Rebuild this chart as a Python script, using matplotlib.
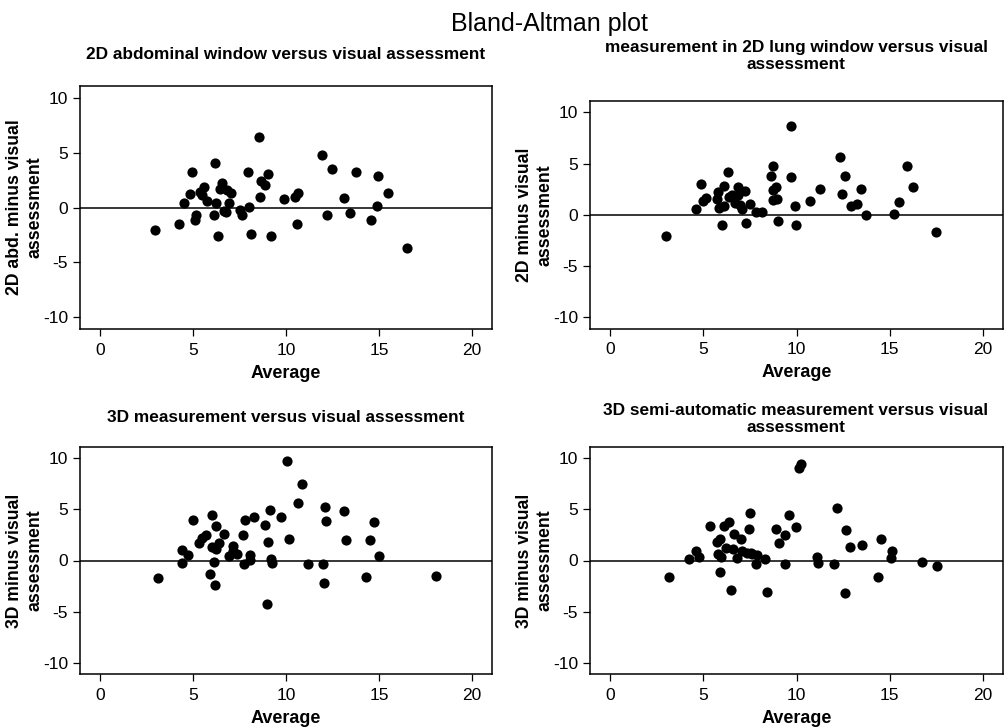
import matplotlib
matplotlib.use("Agg")
import matplotlib.pyplot as plt

plt.rcParams['font.family'] = ['Liberation Sans', 'DejaVu Sans']
plt.rcParams['axes.unicode_minus'] = False

# --- data (average, difference) ---
avg_abd = [2.96, 4.24, 4.49, 4.81, 4.92, 5.08, 5.16, 5.35, 5.59, 5.50, 5.75, 6.14,
           6.20, 6.25, 6.34, 6.47, 6.58, 6.68, 6.79, 6.81, 6.95, 7.06, 7.51, 7.64,
           7.96, 8.03, 8.10, 8.53, 8.62, 8.68, 8.88, 9.02, 9.22, 9.88, 10.47, 10.58,
           10.67, 11.91, 12.18, 12.47, 13.10, 13.42, 13.78, 14.59, 14.90, 14.95, 15.49, 16.50]
diff_abd = [-2.08, -1.47, 0.37, 1.19, 3.24, -1.10, -0.64, 1.44, 1.90, 1.13, 0.61, -0.67,
            4.10, 0.37, -2.63, 1.71, 2.20, -0.31, -0.43, 1.59, 0.43, 1.28, -0.24, -0.67,
            3.24, 0.03, -2.42, 6.42, 0.95, 2.45, 2.05, 3.03, -2.57, 0.80, 0.92, -1.47,
            1.35, 4.83, -0.64, 3.55, 0.89, -0.52, 3.27, -1.13, 0.12, 2.87, 1.31, -3.73]

avg_lung = [2.98, 4.61, 4.90, 4.97, 5.17, 5.80, 5.76, 5.85, 6.01, 6.12, 6.10, 6.30,
            6.37, 6.55, 6.69, 6.85, 6.84, 6.96, 7.09, 7.23, 7.30, 7.53, 7.84, 8.16,
            8.65, 8.74, 8.74, 8.88, 8.76, 8.97, 9.02, 9.70, 9.72, 9.94, 9.99, 10.71,
            11.28, 12.34, 12.42, 12.58, 12.93, 13.26, 13.44, 13.73, 15.23, 15.48, 15.91,
            16.24, 17.49]
diff_lung = [-2.04, 0.52, 3.04, 1.36, 1.59, 2.23, 1.52, 0.68, -1.04, 2.85, 0.87, 4.21,
             1.75, 1.91, 1.10, 2.69, 1.97, 0.94, 0.52, 2.30, -0.78, 1.04, 0.29, 0.29,
             3.75, 4.72, 2.39, 2.72, 1.42, 1.49, -0.61, 8.67, 3.69, 0.84, -1.04, 1.36,
             2.49, 5.60, 2.07, 3.75, 0.84, 1.04, 2.49, 0.00, 0.03, 1.26, 4.72, 2.69, -1.72]

avg_3d = [3.14, 4.42, 4.42, 4.74, 4.99, 5.30, 5.48, 5.68, 5.89, 6.00, 6.04, 6.15,
          6.18, 6.25, 6.25, 6.40, 6.66, 6.95, 7.13, 7.17, 7.38, 7.69, 7.76, 7.80,
          8.05, 8.05, 8.28, 8.89, 8.97, 9.02, 9.13, 9.18, 9.25, 9.72, 10.04, 10.15,
          10.65, 10.87, 11.16, 12.00, 12.07, 12.09, 12.16, 13.10, 13.24, 14.32, 14.54,
          14.72, 14.99, 18.08]
diff_3d = [-1.68, 1.00, -0.29, 0.58, 3.98, 1.72, 2.20, 2.52, -1.29, 1.29, 4.43, -0.10,
           -2.39, 3.33, 1.17, 1.72, 2.62, 0.42, 1.46, 0.97, 0.68, 2.52, -0.39, 3.95,
           0.52, 0.03, 4.24, 3.43, -4.21, 1.81, 4.89, 0.19, -0.26, 4.21, 9.77, 2.14,
           5.63, 7.51, -0.32, -0.32, -2.20, 5.28, 3.85, 4.85, 2.04, -1.62, 2.04, 3.75,
           0.42, -1.52]

avg_semi = [3.18, 4.22, 4.63, 4.77, 5.35, 5.71, 5.87, 5.81, 5.87, 5.96, 6.12, 6.24,
            6.39, 6.46, 6.60, 6.66, 6.82, 7.00, 7.09, 7.36, 7.43, 7.50, 7.63, 7.82,
            7.89, 8.31, 8.42, 8.90, 9.06, 9.38, 9.40, 9.60, 9.98, 10.14, 10.26, 11.09,
            11.16, 12.02, 12.15, 12.58, 12.63, 12.85, 13.53, 14.39, 14.55, 15.11, 15.05,
            16.76, 17.56, 7.55]
diff_semi = [-1.65, 0.13, 0.91, 0.32, 3.33, 1.81, 2.10, 0.68, -1.13, 0.32, 3.33, 1.23,
             3.75, -2.91, 1.17, 2.59, 0.26, 2.10, 0.91, 0.74, 3.07, 4.60, 0.68, -0.32,
             0.52, 0.13, -3.04, 3.07, 1.72, 2.52, -0.39, 4.47, 3.30, 9.06, 9.42, 0.36,
             -0.29, -0.32, 5.18, -3.17, 3.01, 1.33, 1.52, -1.65, 2.07, 0.91, 0.26,
             -0.19, -0.58, 0.74]

titles = ["2D abdominal window versus visual assessment",
          "measurement in 2D lung window versus visual\nassessment",
          "3D measurement versus visual assessment",
          "3D semi-automatic measurement versus visual\nassessment"]
ylabels = ["2D abd. minus visual\nassessment",
           "2D minus visual\nassessment",
           "3D minus visual\nassessment",
           "3D minus visual\nassessment"]
xticks = [0, 5, 10, 15, 20]
yticks = [-10, -5, 0, 5, 10]

panels = [(avg_abd, diff_abd), (avg_lung, diff_lung), (avg_3d, diff_3d), (avg_semi, diff_semi)]

W, H = 1005, 727
fig = plt.figure(figsize=(W / 100, H / 100), dpi=100)

# axes boxes in pixels: left, top, right, bottom
boxes = [(80, 86, 492, 329), (590, 101, 1003, 328.5),
         (80, 447, 492, 674), (590, 447, 1003, 674)]
# title centres in pixels
title_pos = [(286, 54.5), (796, 56), (286, 418), (796, 419)]

for i, ((x, d), box) in enumerate(zip(panels, boxes)):
    l, t, r, b = box
    ax = fig.add_axes([l / W, 1 - b / H, (r - l) / W, (b - t) / H])
    ax.scatter(x, d, s=54, color='black', linewidths=0, zorder=3)
    ax.axhline(0, color='black', lw=1.1, zorder=2)
    ax.set_xlim(-1.08, 21.08)
    ax.set_ylim(-11.1, 11.1)
    ax.set_xticks(xticks)
    ax.set_yticks(yticks)
    ax.tick_params(direction='out', length=5, width=0.9, labelsize=12.5, color='black')
    ax.tick_params(axis='x', pad=5)
    for s in ax.spines.values():
        s.set_linewidth(1.1)
    ax.set_xlabel("Average", fontsize=13, fontweight='bold', labelpad=5)
    ax.set_ylabel(ylabels[i], fontsize=12.7, fontweight='bold', labelpad=0)

    tx, ty = title_pos[i]
    fig.text(tx / W, 1 - ty / H, titles[i], ha='center', va='center',
             multialignment='center', fontsize=12.4, fontweight='bold')

fig.text(549 / W, 1 - 31 / H, "Bland-Altman plot", ha='center', va='baseline', fontsize=18)

fig.savefig("out.png", dpi=100)
